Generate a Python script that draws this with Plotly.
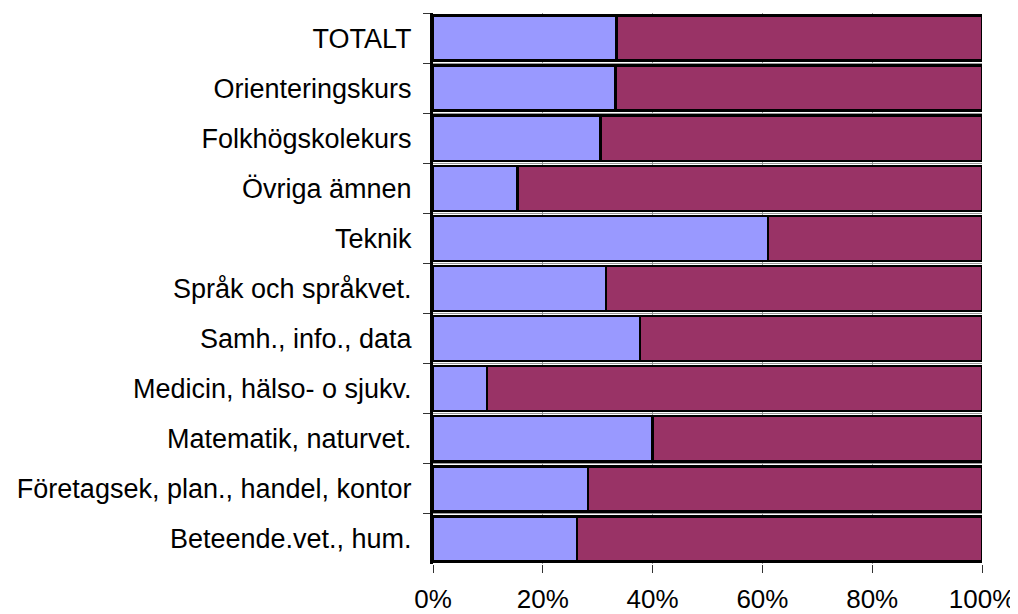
import plotly.graph_objects as go

categories = [
    "TOTALT",
    "Orienteringskurs",
    "Folkhögskolekurs",
    "Övriga ämnen",
    "Teknik",
    "Språk och språkvet.",
    "Samh., info., data",
    "Medicin, hälso- o sjukv.",
    "Matematik, naturvet.",
    "Företagsek, plan., handel, kontor",
    "Beteende.vet., hum.",
]
share_a = [33.4, 33.2, 30.5, 15.4, 61.0, 31.5, 37.7, 9.8, 40.0, 28.2, 26.2]
share_b = [66.6, 66.8, 69.5, 84.6, 39.0, 68.5, 62.3, 90.2, 60.0, 71.8, 73.8]
x_ticks = [0, 20, 40, 60, 80, 100]
x_tick_labels = ["0%", "20%", "40%", "60%", "80%", "100%"]

yfont = dict(family="Liberation Sans, Arial, sans-serif", size=27, color="black")
xfont = dict(family="Liberation Sans, Arial, sans-serif", size=26, color="black")

fig = go.Figure()
fig.add_trace(go.Bar(
    y=categories, x=share_a, orientation="h",
    marker=dict(color="#9999FF", line=dict(color="black", width=2.5)),
    showlegend=False,
))
fig.add_trace(go.Bar(
    y=categories, x=share_b, orientation="h",
    marker=dict(color="#993366", line=dict(color="black", width=2.5)),
    showlegend=False,
))

# page body has an 8px default margin, so the figure is sized to the visible area
fig.update_layout(
    barmode="stack",
    bargap=0.1,
    width=1010, height=606,
    margin=dict(l=425, r=36, t=5, b=50, pad=0, autoexpand=False),
    paper_bgcolor="white",
    plot_bgcolor="white",
    font=yfont,
)
fig.update_xaxes(
    range=[0, 100],
    tickvals=x_ticks, ticktext=x_tick_labels,
    ticks="outside", ticklen=8, tickcolor="#333333", tickwidth=1,
    showgrid=True, gridcolor="#999999", gridwidth=1,
    showline=False, zeroline=False,
    tickfont=xfont,
    ticklabelstandoff=4,
    automargin=False,
)
fig.update_yaxes(
    autorange="reversed",
    tickson="boundaries",
    ticks="outside", ticklen=7, tickcolor="#333333", tickwidth=1,
    showgrid=True, gridcolor="#999999", gridwidth=1,
    showline=True, linecolor="black", linewidth=3,
    tickfont=yfont,
    ticklabelstandoff=13,
    automargin=False,
)

fig.write_html("out.html")
